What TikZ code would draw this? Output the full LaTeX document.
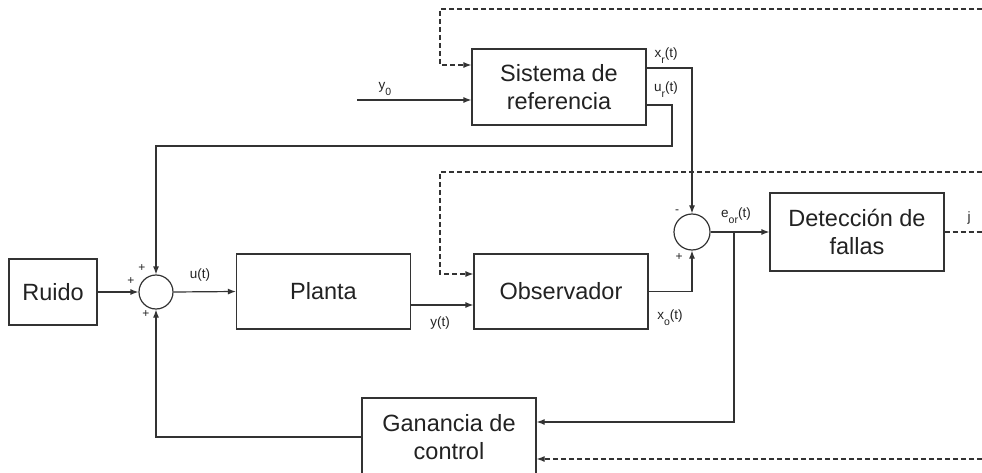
\documentclass[tikz,border=0pt]{standalone}
\usepackage{fontspec}
\setmainfont{Liberation Sans}
\usetikzlibrary{arrows.meta,calc}

% lowered subscript used in the signal labels
\newcommand\lowsub[1]{\raisebox{-0.45em}{\fontsize{10.5}{11}\selectfont #1}}

\definecolor{linegray}{HTML}{333333}
\definecolor{textgray}{HTML}{222222}

\begin{document}
\begin{tikzpicture}[x=1pt,y=-1pt,
  line width=1.2pt,
  draw=linegray,
  block/.style={draw=linegray, rectangle, minimum width=174pt, minimum height=76pt,
    align=center, inner sep=0pt, text=textgray,
    font=\fontsize{23.5}{27.5}\selectfont},
  sumnode/.style={draw=linegray, circle, minimum size=35pt, inner sep=0pt},
  sig/.style={-{Latex[length=8pt,width=6pt]}},
  fb/.style={dash pattern=on 5pt off 3pt},
  lbl/.style={inner sep=0pt, text=textgray, font=\fontsize{13.5}{15}\selectfont},
  sgn/.style={inner sep=0pt, text=textgray, font=\fontsize{12}{13}\selectfont}
]
\useasboundingbox (0,0) rectangle (982,473);
\clip (0,0) rectangle (982,473);

% blocks
\node[block] (sist) at (559,87) {Sistema de\\referencia};
\node[block, minimum width=88pt, minimum height=66pt] (ruido) at (53,292) {Ruido};
\node[block, minimum height=75pt] (planta) at (323.5,291.5) {Planta};
\node[block, minimum height=75pt] (obs) at (561,291.5) {Observador};
\node[block, minimum height=78pt] (det) at (857,232) {Detección de\\fallas};
\node[block, minimum height=78pt] (gan) at (449,437) {Ganancia de\\control};

% summing junctions
\node[sumnode, minimum size=34pt] (sum1) at (156,292) {};
\node[sumnode, minimum size=36pt] (sum2) at (692,232) {};

% helper points
\coordinate (y0in) at (357,100);
\coordinate (urturn) at (672,146);
\coordinate (br) at (734,232);
\coordinate (topR) at (982,9);
\coordinate (topL) at (440,9);
\coordinate (midR) at (982,172);
\coordinate (midL) at (440,172);
\coordinate (jend) at (982,232);
\coordinate (botR) at (982,459);

% solid signal paths
\draw[sig] (ruido.east) -- (sum1.west);
\draw[sig] (sum1.east) -- (planta.west);
\draw[sig] ([yshift=-13.5pt]planta.east) -- ([yshift=-13.5pt]obs.west);
\draw[sig] (obs.east) -| (sum2.south);
\draw[sig] ([yshift=19pt]sist.east) -| (sum2.north);
\draw[sig] ([yshift=-18pt]sist.east) -| (urturn) -| (sum1.north);
\draw[sig] (sum2.east) -- (det.west);
\draw[sig] (br) |- ([yshift=15pt]gan.east);
\draw[sig] (gan.west) -| (sum1.south);
\draw[sig] (y0in) -- (y0in -| sist.west);

% dashed paths
\draw[sig, fb] (topR) -- (topL) |- ([yshift=22pt]sist.west);
\draw[sig, fb] (midR) -- (midL) |- ([yshift=17.5pt]obs.west);
\draw[fb] (det.east) -- (jend);
\draw[sig, fb] (botR) -- (botR -| gan.east);

% signal labels
\node[lbl] at (385,89) {y\lowsub{0}};
\node[lbl] at (666,56) {x\lowsub{r}(t)};
\node[lbl] at (666,90) {u\lowsub{r}(t)};
\node[lbl] at (736,216) {e\lowsub{or}(t)};
\node[lbl] at (670,318) {x\lowsub{o}(t)};
\node[lbl] at (440,323) {y(t)};
\node[lbl] at (200,275) {u(t)};
\node[lbl] at (969,218) {j};

% signs at the junctions
\node[sgn] at (677,212) {-};
\node[sgn] at (679,257) {+};
\node[sgn] at (131,281) {+};
\node[sgn] at (142,268) {+};
\node[sgn] at (146,314) {+};
\end{tikzpicture}
\end{document}
